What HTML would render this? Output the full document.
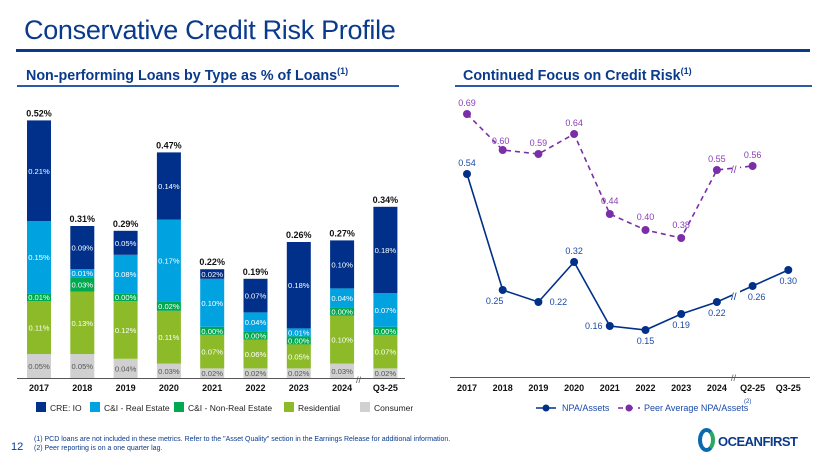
<!DOCTYPE html>
<html><head><meta charset="utf-8"><style>
body{margin:0;width:820px;height:461px;background:#fff;font-family:"Liberation Sans",sans-serif;overflow:hidden;position:relative}
.abs{position:absolute}
</style></head><body>
<div class="abs" style="left:24px;top:15px;font-size:27px;color:#0a3a8c;letter-spacing:-0.3px">Conservative Credit Risk Profile</div>
<div class="abs" style="left:16px;top:49px;width:794px;height:3px;background:#0a3a8c"></div>
<div class="abs" style="left:26px;top:66px;font-size:14.3px;font-weight:bold;color:#0a3a8c">Non-performing Loans by Type as % of Loans<sup style="font-size:9px">(1)</sup></div>
<div class="abs" style="left:17px;top:85px;width:382px;height:2px;background:#2a5aa8"></div>
<div class="abs" style="left:463px;top:66px;font-size:14.3px;font-weight:bold;color:#0a3a8c">Continued Focus on Credit Risk<sup style="font-size:9px">(1)</sup></div>
<div class="abs" style="left:455px;top:85px;width:357px;height:2px;background:#2a5aa8"></div>
<svg class="abs" style="left:0;top:0" width="820" height="461" id="svg"></svg>
<div class="abs" style="left:34px;top:436px;font-size:7px;color:#0a3a8c">(1) PCD loans are not included in these metrics. Refer to the "Asset Quality" section in the Earnings Release for additional information.</div>
<div class="abs" style="left:34px;top:445px;font-size:7px;color:#0a3a8c">(2) Peer reporting is on a one quarter lag.</div>
<div class="abs" style="left:11px;top:441px;font-size:11px;color:#0a3a8c">12</div>
<div class="abs" style="left:698px;top:428px;font-size:13px;font-weight:bold;color:#0a3a8c;letter-spacing:-0.5px;white-space:nowrap"><span style="display:inline-block;width:9px;height:16px;border:4px solid #0a6ab0;border-radius:50%;border-right-color:#2aa860;vertical-align:-6px;margin-right:3px"></span>OCEANFIRST</div>
<script>
const years=["2017","2018","2019","2020","2021","2022","2023","2024","Q3-25"];
const cre=[0.21,0.09,0.05,0.14,0.02,0.07,0.18,0.10,0.18];
const cire=[0.15,0.01,0.08,0.17,0.10,0.04,0.01,0.04,0.07];
const cinre=[0.01,0.03,0.00,0.02,0.00,0.00,0.00,0.00,0.00];
const resid=[0.11,0.13,0.12,0.11,0.07,0.06,0.05,0.10,0.07];
const cons=[0.05,0.05,0.04,0.03,0.02,0.02,0.02,0.03,0.02];
const totals=[0.52,0.31,0.29,0.47,0.22,0.19,0.26,0.27,0.34];
const periods=["2017","2018","2019","2020","2021","2022","2023","2024","Q2-25","Q3-25"];
const npa=[0.54,0.25,0.22,0.32,0.16,0.15,0.19,0.22,0.26,0.30];
const peer=[0.69,0.60,0.59,0.64,0.44,0.40,0.38,0.55,0.56];
const svg=document.getElementById('svg');
const NS='http://www.w3.org/2000/svg';
function mk(t,a,txt){const e=document.createElementNS(NS,t);for(const k in a)e.setAttribute(k,a[k]);if(txt!==undefined)e.textContent=txt;svg.appendChild(e);return e;}
const base=378, bx=i=>27+i*43.3, bw=24, hs=v=>Math.max(8,v*480);
const series=[[cons,'#d0d0d0','#555','consumer'],[resid,'#8cba28','#fff','residential'],[cinre,'#00a84f','#fff','ci-non-real-estate'],[cire,'#00a3e0','#fff','ci-real-estate'],[cre,'#00308a','#fff','cre-io']];
years.forEach((y,i)=>{let top=base;
 series.forEach(s=>{const h=hs(s[0][i]);top-=h;
  const r=mk('rect',{x:bx(i),y:top,width:bw,height:h,fill:s[1]});
  
  
  const t=mk('text',{x:bx(i)+bw/2,y:top+h/2+3,'font-size':7.6,'text-anchor':'middle',fill:s[2]},s[0][i].toFixed(2)+'%');
  
  });
 const tl=mk('text',{x:bx(i)+bw/2,y:top-4,'font-size':9,'font-weight':'bold','text-anchor':'middle',fill:'#111'},totals[i].toFixed(2)+'%');
 
 
 const xl=mk('text',{x:bx(i)+bw/2,y:391,'font-size':9,'font-weight':'bold','text-anchor':'middle',fill:'#111'},y);
 
 
});
mk('line',{x1:17,y1:378.5,x2:405,y2:378.5,stroke:'#555','stroke-width':1});
mk('text',{x:356,y:383,'font-size':9,fill:'#555'},'//');
const leg=[['CRE: IO','#00308a'],['C&I - Real Estate','#00a3e0'],['C&I - Non-Real Estate','#00a84f'],['Residential','#8cba28'],['Consumer','#d0d0d0']];
const lx=[36,90,174,284,360];
leg.forEach((l,i)=>{const r=mk('rect',{x:lx[i],y:402,width:10,height:10,fill:l[1]});
 
 
 const t=mk('text',{x:lx[i]+14,y:411,'font-size':8.5,fill:'#222'},l[0]);
 
 });
const px=i=>467+i*35.7, py=v=>114+(0.69-v)*400;
mk('line',{x1:450,y1:377.5,x2:810,y2:377.5,stroke:'#555','stroke-width':1});
mk('text',{x:731,y:381,'font-size':9,fill:'#555'},'//');
periods.forEach((p,i)=>{const t=mk('text',{x:px(i),y:391,'font-size':9,'font-weight':'bold','text-anchor':'middle',fill:'#111'},p);
 
 });
mk('polyline',{points:peer.map((v,i)=>px(i)+','+py(v)).join(' '),fill:'none',stroke:'#7a2ea8','stroke-width':1.6,'stroke-dasharray':'5,4'});
mk('polyline',{points:npa.map((v,i)=>px(i)+','+py(v)).join(' '),fill:'none',stroke:'#00308a','stroke-width':1.6});
const pdx=[0,-2,0,0,0,0,0,0,0], pdy=[-8,-6,-8,-8,-10,-10,-10,-8,-8];
peer.forEach((v,i)=>{const c=mk('circle',{cx:px(i),cy:py(v),r:4,fill:'#7a2ea8'});
 
 
 const t=mk('text',{x:px(i)+pdx[i],y:py(v)+pdy[i],'font-size':9,'text-anchor':'middle',fill:'#8a3eb8'},v.toFixed(2));
 
 });
const nx=[0,-8,20,0,-16,0,0,0,4,0], ny=[-8,14,3,-8,3,14,14,14,14,14];
npa.forEach((v,i)=>{const c=mk('circle',{cx:px(i),cy:py(v),r:4,fill:'#00308a'});
 
 
 const t=mk('text',{x:px(i)+nx[i],y:py(v)+ny[i],'font-size':9,'text-anchor':'middle',fill:'#1a4aa8'},v.toFixed(2));
 
 });
mk('rect',{x:732,y:156,width:8,height:190,fill:'#fff'});
mk('text',{x:731,y:173,'font-size':10,fill:'#7a2ea8'},'//');
mk('text',{x:731,y:300,'font-size':10,fill:'#00308a'},'//');
mk('line',{x1:536,y1:408,x2:556,y2:408,stroke:'#00308a','stroke-width':1.6});
mk('circle',{cx:546,cy:408,r:3.5,fill:'#00308a'});
const l1=mk('text',{x:562,y:411,'font-size':9,fill:'#1a4aa8'},'NPA/Assets');


mk('line',{x1:618,y1:408,x2:640,y2:408,stroke:'#7a2ea8','stroke-width':1.6,'stroke-dasharray':'5,5'});
mk('circle',{cx:629,cy:408,r:3.5,fill:'#7a2ea8'});
const l2=mk('text',{x:644,y:411,'font-size':9,fill:'#1a4aa8'},'Peer Average NPA/Assets');


mk('text',{x:744,y:403,'font-size':6,fill:'#1a4aa8'},'(2)');
</script>
</body></html>
